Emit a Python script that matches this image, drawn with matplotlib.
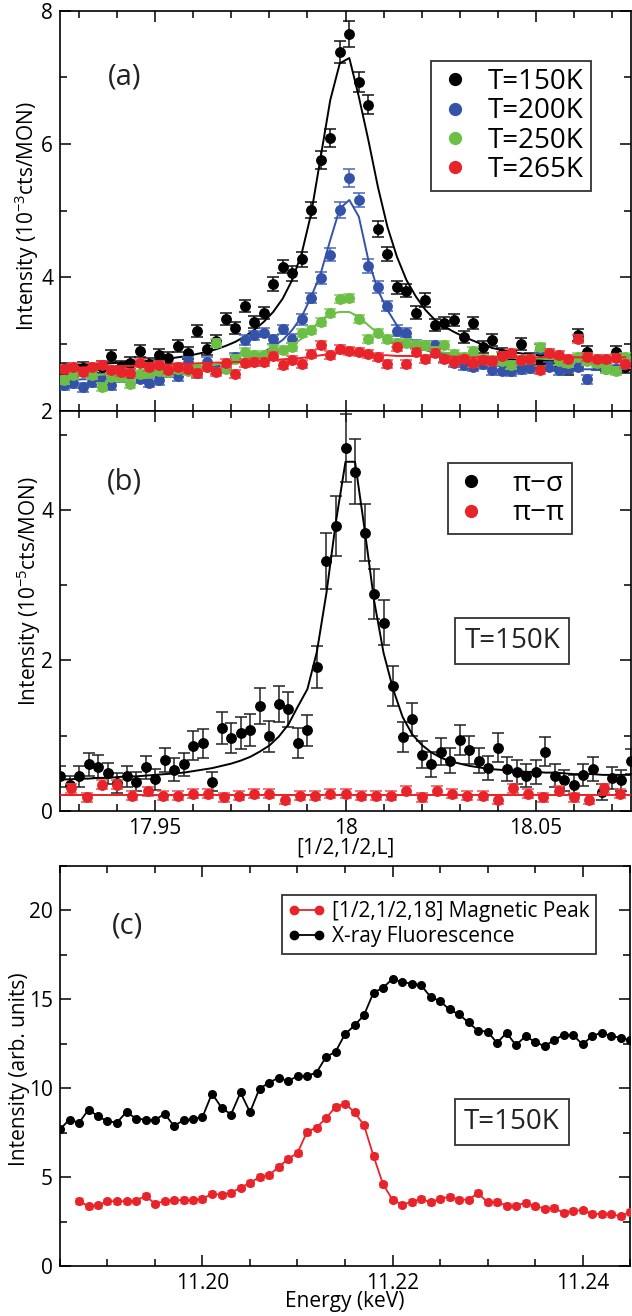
import matplotlib
matplotlib.use('Agg')
import matplotlib.pyplot as plt
from matplotlib.lines import Line2D
from matplotlib.ticker import MultipleLocator, FixedLocator

plt.rcParams['font.family'] = ['Open Sans', 'DejaVu Sans']
plt.rcParams['mathtext.fontset'] = 'custom'
plt.rcParams['mathtext.rm'] = 'Open Sans'
plt.rcParams['mathtext.it'] = 'Open Sans:italic'
plt.rcParams['mathtext.bf'] = 'Open Sans:bold'
plt.rcParams['axes.linewidth'] = 1.2

# ---------------- panel (a): L scans at four temperatures ----------------
L_a = [17.9260, 17.9285, 17.9310, 17.9335, 17.9360, 17.9385, 17.9410, 17.9435, 17.9460, 17.9485,
       17.9510, 17.9535, 17.9560, 17.9585, 17.9610, 17.9635, 17.9660, 17.9685, 17.9710, 17.9735,
       17.9760, 17.9785, 17.9810, 17.9835, 17.9860, 17.9885, 17.9910, 17.9935, 17.9960, 17.9985,
       18.0010, 18.0035, 18.0060, 18.0085, 18.0110, 18.0135, 18.0160, 18.0185, 18.0210, 18.0235,
       18.0260, 18.0285, 18.0310, 18.0335, 18.0360, 18.0385, 18.0410, 18.0435, 18.0460, 18.0485,
       18.0510, 18.0535, 18.0560, 18.0585, 18.0610, 18.0635, 18.0660, 18.0685, 18.0710, 18.0735]

t150 = [2.62, 2.60, 2.64, 2.61, 2.66, 2.82, 2.66, 2.71, 2.90, 2.70,
        2.84, 2.79, 2.97, 2.87, 3.20, 2.93, 3.05, 3.38, 3.24, 3.57,
        3.33, 3.47, 3.90, 4.16, 4.06, 4.27, 5.01, 5.76, 6.09, 7.38,
        7.65, 6.93, 6.59, 4.72, 4.35, 3.85, 3.80, 3.47, 3.66, 3.28,
        3.32, 3.36, 3.11, 3.31, 2.95, 3.06, 2.85, 2.80, 3.00, 2.78,
        2.75, 2.72, 2.70, 2.63, 3.13, 2.88, 2.70, 2.68, 2.88, 2.66]
t150_err = [0.09, 0.09, 0.09, 0.09, 0.09, 0.09, 0.09, 0.09, 0.09, 0.09,
            0.09, 0.09, 0.09, 0.09, 0.09, 0.09, 0.09, 0.09, 0.09, 0.09,
            0.09, 0.09, 0.10, 0.10, 0.11, 0.11, 0.12, 0.13, 0.14, 0.17,
            0.19, 0.15, 0.14, 0.12, 0.11, 0.10, 0.10, 0.10, 0.10, 0.09,
            0.09, 0.09, 0.09, 0.09, 0.09, 0.09, 0.09, 0.09, 0.09, 0.09,
            0.09, 0.09, 0.09, 0.09, 0.09, 0.09, 0.09, 0.09, 0.09, 0.09]
t150_fit = [2.68, 2.69, 2.69, 2.70, 2.70, 2.71, 2.72, 2.73, 2.74, 2.75,
            2.76, 2.78, 2.80, 2.82, 2.85, 2.88, 2.92, 2.97, 3.03, 3.11,
            3.21, 3.33, 3.48, 3.68, 3.96, 4.36, 4.96, 5.81, 6.66, 7.21,
            7.29, 6.71, 6.06, 5.36, 4.76, 4.31, 3.96, 3.71, 3.51, 3.36,
            3.26, 3.18, 3.11, 3.05, 2.99, 2.94, 2.91, 2.88, 2.86, 2.84,
            2.83, 2.82, 2.81, 2.80, 2.80, 2.79, 2.79, 2.78, 2.78, 2.78]

t200 = [2.38, 2.41, 2.35, 2.43, 2.48, 2.38, 2.50, 2.55, 2.48, 2.42,
        2.46, 2.58, 2.52, 2.73, 2.56, 2.73, 2.62, 2.64, 2.80, 3.06,
        3.13, 3.17, 3.07, 3.22, 3.08, 3.37, 3.69, 3.99, 4.34, 5.01,
        5.49, 5.16, 4.17, 3.86, 3.57, 3.20, 3.17, 2.99, 2.98, 2.98,
        2.80, 2.72, 2.68, 2.66, 2.70, 2.61, 2.60, 2.59, 2.62, 2.64,
        2.93, 2.66, 2.61, 2.63, 2.66, 2.47, 2.68, 2.63, 2.62, 2.71]
t200_err = [0.07, 0.07, 0.07, 0.07, 0.07, 0.07, 0.07, 0.07, 0.07, 0.07,
            0.07, 0.07, 0.07, 0.07, 0.07, 0.07, 0.07, 0.07, 0.07, 0.07,
            0.07, 0.07, 0.07, 0.07, 0.07, 0.08, 0.08, 0.09, 0.10, 0.12,
            0.13, 0.11, 0.10, 0.09, 0.08, 0.08, 0.07, 0.07, 0.07, 0.07,
            0.07, 0.07, 0.07, 0.07, 0.07, 0.07, 0.07, 0.07, 0.07, 0.07,
            0.07, 0.07, 0.07, 0.07, 0.07, 0.07, 0.07, 0.07, 0.07, 0.07]
t200_fit = [2.46, 2.46, 2.47, 2.47, 2.48, 2.48, 2.49, 2.49, 2.50, 2.51,
            2.52, 2.53, 2.54, 2.56, 2.58, 2.60, 2.63, 2.67, 2.72, 2.78,
            2.82, 2.88, 2.96, 3.06, 3.21, 3.41, 3.71, 4.06, 4.56, 5.03,
            5.16, 4.91, 4.26, 3.81, 3.51, 3.28, 3.13, 3.01, 2.91, 2.86,
            2.81, 2.77, 2.74, 2.72, 2.70, 2.68, 2.67, 2.66, 2.65, 2.64,
            2.64, 2.63, 2.63, 2.63, 2.62, 2.62, 2.62, 2.62, 2.62, 2.62]

t250 = [2.46, 2.53, 2.58, 2.53, 2.36, 2.50, 2.51, 2.40, 2.55, 2.56,
        2.60, 2.58, 2.62, 2.60, 2.63, 2.65, 3.02, 2.63, 2.78, 2.88,
        2.83, 2.83, 2.93, 2.91, 2.96, 3.17, 3.21, 3.33, 3.47, 3.67,
        3.69, 3.37, 3.07, 3.17, 3.07, 3.01, 3.01, 2.98, 2.98, 2.90,
        2.99, 2.85, 2.80, 2.89, 2.78, 2.76, 2.74, 2.68, 2.76, 2.78,
        2.95, 2.86, 2.74, 2.72, 2.81, 2.75, 2.72, 2.62, 2.59, 2.81]
t250_err = 0.06
t250_fit = [2.50, 2.51, 2.52, 2.53, 2.54, 2.55, 2.56, 2.57, 2.58, 2.59,
            2.60, 2.61, 2.62, 2.64, 2.65, 2.67, 2.69, 2.72, 2.75, 2.78,
            2.81, 2.84, 2.87, 2.91, 2.98, 3.08, 3.22, 3.36, 3.45, 3.48,
            3.48, 3.41, 3.28, 3.16, 3.06, 3.00, 2.96, 2.93, 2.91, 2.89,
            2.87, 2.85, 2.84, 2.83, 2.82, 2.81, 2.80, 2.79, 2.79, 2.78,
            2.78, 2.77, 2.77, 2.77, 2.76, 2.76, 2.76, 2.76, 2.76, 2.76]

t265 = [2.63, 2.66, 2.58, 2.66, 2.68, 2.61, 2.58, 2.57, 2.71, 2.66,
        2.68, 2.61, 2.65, 2.62, 2.57, 2.65, 2.58, 2.71, 2.55, 2.72,
        2.73, 2.73, 2.82, 2.68, 2.76, 2.70, 2.85, 2.98, 2.83, 2.93,
        2.89, 2.88, 2.85, 2.80, 2.70, 2.96, 2.70, 2.88, 2.78, 2.87,
        2.78, 2.73, 2.77, 2.71, 2.76, 2.75, 2.82, 2.87, 2.76, 2.78,
        2.61, 2.86, 2.83, 2.78, 3.07, 2.81, 2.78, 2.77, 2.79, 2.70]
t265_err = 0.06
t265_fit = [2.64, 2.64, 2.65, 2.65, 2.66, 2.66, 2.67, 2.67, 2.68, 2.68,
            2.69, 2.69, 2.70, 2.70, 2.71, 2.71, 2.72, 2.72, 2.73, 2.73,
            2.74, 2.75, 2.76, 2.77, 2.78, 2.79, 2.81, 2.83, 2.85, 2.86,
            2.86, 2.85, 2.84, 2.83, 2.83, 2.82, 2.82, 2.82, 2.81, 2.81,
            2.81, 2.81, 2.80, 2.80, 2.80, 2.80, 2.80, 2.80, 2.80, 2.80,
            2.80, 2.80, 2.80, 2.80, 2.80, 2.80, 2.80, 2.80, 2.80, 2.80]

temp_labels = ['T=150K', 'T=200K', 'T=250K', 'T=265K']
temp_colors = ['#000000', '#3452a8', '#6cbf45', '#e8232a']
temp_ecolors = ['#111111', '#4866bd', '#86d060', '#ef5050']

# ---------------- panel (b): polarisation analysis at 150 K ----------------
L_b = [17.9250, 17.9275, 17.9300, 17.9325, 17.9350, 17.9375, 17.9400, 17.9425, 17.9450, 17.9475,
       17.9500, 17.9525, 17.9550, 17.9575, 17.9600, 17.9625, 17.9650, 17.9675, 17.9700, 17.9725,
       17.9750, 17.9775, 17.9800, 17.9825, 17.9850, 17.9875, 17.9900, 17.9925, 17.9950, 17.9975,
       18.0000, 18.0025, 18.0050, 18.0075, 18.0100, 18.0125, 18.0150, 18.0175, 18.0200, 18.0225,
       18.0250, 18.0275, 18.0300, 18.0325, 18.0350, 18.0375, 18.0400, 18.0425, 18.0450, 18.0475,
       18.0500, 18.0525, 18.0550, 18.0575, 18.0600, 18.0625, 18.0650, 18.0675, 18.0700, 18.0725,
       18.0750]
pi_sigma = [0.46, 0.34, 0.46, 0.62, 0.59, 0.50, 0.37, 0.46, 0.39, 0.58,
            0.42, 0.68, 0.55, 0.62, 0.87, 0.90, 0.39, 1.10, 0.97, 1.04,
            1.08, 1.40, 0.99, 1.42, 1.35, 0.90, 1.07, 1.91, 3.32, 3.79,
            4.82, 4.51, 3.70, 2.88, 2.50, 1.66, 0.98, 1.22, 0.75, 0.62,
            0.79, 0.67, 0.94, 0.81, 0.67, 0.57, 0.84, 0.56, 0.52, 0.47,
            0.52, 0.79, 0.47, 0.41, 0.35, 0.48, 0.56, 0.25, 0.44, 0.41,
            0.66]
pi_sigma_err = [0.14, 0.13, 0.14, 0.15, 0.15, 0.14, 0.13, 0.14, 0.13, 0.15,
                0.14, 0.16, 0.15, 0.15, 0.19, 0.19, 0.13, 0.21, 0.20, 0.21,
                0.21, 0.24, 0.21, 0.24, 0.23, 0.20, 0.21, 0.28, 0.37, 0.40,
                0.45, 0.43, 0.38, 0.33, 0.30, 0.26, 0.20, 0.22, 0.18, 0.17,
                0.18, 0.17, 0.20, 0.18, 0.17, 0.16, 0.19, 0.16, 0.16, 0.15,
                0.16, 0.19, 0.15, 0.14, 0.13, 0.15, 0.16, 0.11, 0.15, 0.14,
                0.17]
pi_sigma_fit = [0.42, 0.42, 0.43, 0.43, 0.44, 0.44, 0.45, 0.46, 0.46, 0.47,
                0.48, 0.49, 0.50, 0.51, 0.53, 0.55, 0.57, 0.60, 0.63, 0.67,
                0.72, 0.79, 0.87, 0.99, 1.15, 1.39, 1.62, 2.12, 2.90, 3.85,
                4.64, 4.64, 3.75, 2.80, 2.10, 1.62, 1.25, 1.02, 0.88, 0.78,
                0.71, 0.66, 0.63, 0.60, 0.58, 0.56, 0.55, 0.54, 0.53, 0.52,
                0.52, 0.51, 0.51, 0.50, 0.49, 0.49, 0.49, 0.48, 0.48, 0.48,
                0.48]

L_pp = [17.928, 17.932, 17.936, 17.940, 17.944, 17.948, 17.952, 17.956, 17.960, 17.964,
        17.968, 17.972, 17.976, 17.980, 17.984, 17.988, 17.992, 17.996, 18.000, 18.004,
        18.008, 18.012, 18.016, 18.020, 18.024, 18.028, 18.032, 18.036, 18.040, 18.044,
        18.048, 18.052, 18.056, 18.060, 18.064, 18.068, 18.072]
pi_pi = [0.30, 0.18, 0.35, 0.35, 0.20, 0.26, 0.20, 0.20, 0.23, 0.23,
         0.18, 0.20, 0.23, 0.23, 0.15, 0.20, 0.20, 0.23, 0.23, 0.20,
         0.20, 0.20, 0.27, 0.18, 0.27, 0.23, 0.20, 0.20, 0.15, 0.30,
         0.23, 0.18, 0.27, 0.18, 0.15, 0.30, 0.23]
pi_pi_err = 0.06
pi_pi_fit_L = [17.925, 18.075]
pi_pi_fit = [0.21, 0.21]

# ---------------- panel (c): energy scans ----------------
E_fluo = [11.185, 11.186, 11.187, 11.188, 11.189, 11.190, 11.191, 11.192, 11.193, 11.194,
          11.195, 11.196, 11.197, 11.198, 11.199, 11.200, 11.201, 11.202, 11.203, 11.204,
          11.205, 11.206, 11.207, 11.208, 11.209, 11.210, 11.211, 11.212, 11.213, 11.214,
          11.215, 11.216, 11.217, 11.218, 11.219, 11.220, 11.221, 11.222, 11.223, 11.224,
          11.225, 11.226, 11.227, 11.228, 11.229, 11.230, 11.231, 11.232, 11.233, 11.234,
          11.235, 11.236, 11.237, 11.238, 11.239, 11.240, 11.241, 11.242, 11.243, 11.244,
          11.245]
fluo = [7.69, 8.24, 8.05, 8.80, 8.42, 8.14, 8.07, 8.67, 8.29, 8.24,
        8.20, 8.57, 7.88, 8.20, 8.26, 8.39, 9.70, 8.91, 8.52, 9.76,
        8.65, 9.98, 10.30, 10.60, 10.39, 10.69, 10.69, 10.88, 11.76, 12.05,
        13.04, 13.53, 14.11, 15.38, 15.65, 16.15, 15.97, 15.89, 15.80, 15.14,
        14.90, 14.43, 14.15, 13.70, 13.23, 13.19, 12.55, 13.11, 12.42, 12.93,
        12.61, 12.36, 12.70, 13.00, 13.00, 12.46, 12.93, 13.13, 12.93, 12.85,
        12.70]

E_mag = [11.187, 11.188, 11.189, 11.190, 11.191, 11.192, 11.193, 11.194,
         11.195, 11.196, 11.197, 11.198, 11.199, 11.200, 11.201, 11.202, 11.203, 11.204,
         11.205, 11.206, 11.207, 11.208, 11.209, 11.210, 11.211, 11.212, 11.213, 11.214,
         11.215, 11.216, 11.217, 11.218, 11.219, 11.220, 11.221, 11.222, 11.223, 11.224,
         11.225, 11.226, 11.227, 11.228, 11.229, 11.230, 11.231, 11.232, 11.233, 11.234,
         11.235, 11.236, 11.237, 11.238, 11.239, 11.240, 11.241, 11.242, 11.243, 11.244,
         11.245]
mag = [3.66, 3.36, 3.41, 3.64, 3.64, 3.64, 3.68, 3.94, 3.51, 3.64,
       3.70, 3.71, 3.70, 3.77, 4.07, 4.01, 4.11, 4.41, 4.67, 5.01,
       5.10, 5.57, 6.02, 6.36, 7.54, 7.79, 8.31, 8.95, 9.14, 8.65,
       7.92, 6.19, 4.60, 3.73, 3.45, 3.60, 3.77, 3.58, 3.79, 3.88,
       3.73, 3.73, 4.11, 3.58, 3.60, 3.40, 3.40, 3.55, 3.36, 3.23,
       3.26, 3.00, 3.11, 3.13, 2.95, 2.91, 2.91, 2.80, 3.04]
mag_err = 0.15


def style_axis(ax):
    ax.tick_params(which='both', direction='in', top=True, right=True,
                   labelsize=15, width=1.1, pad=5)
    ax.tick_params(which='major', length=8)
    ax.tick_params(which='minor', length=5)


def boxed(ax, x, y, s):
    ax.text(x, y, s, transform=ax.transAxes, fontsize=20, ha='center', va='center',
            color='#222222',
            bbox=dict(boxstyle='square,pad=0.33', fc='white', ec='#333333', lw=1.3))


fig = plt.figure(figsize=(6.32, 13.16), dpi=100)
W, H = 632.0, 1316.0
ax_a = fig.add_axes([60 / W, 1 - 410.6 / H, 571 / W, 399.9 / H])
ax_b = fig.add_axes([60 / W, 1 - 811 / H, 571 / W, 400.4 / H])
ax_c = fig.add_axes([60 / W, 1 - 1266 / H, 570 / W, 400 / H])

# ---- (a)
series_a = [(t150, t150_err, t150_fit), (t200, t200_err, t200_fit),
            (t250, t250_err, t250_fit), (t265, t265_err, t265_fit)]
for n, (y, e, f) in enumerate(series_a):
    ax_a.errorbar(L_a, y, yerr=e, fmt='o', ms=6.8, color=temp_colors[n],
                  ecolor=temp_ecolors[n], elinewidth=1.1, capsize=4.2, capthick=1.1,
                  zorder=2 + n)
    ax_a.plot(L_a, f, color=temp_colors[n], lw=1.4, zorder=2 + n)

ax_a.set_xlim(17.925, 18.075)
ax_a.set_ylim(2, 8)
ax_a.xaxis.set_major_locator(FixedLocator([17.95, 18.0, 18.05]))
ax_a.xaxis.set_minor_locator(MultipleLocator(0.01))
ax_a.yaxis.set_major_locator(FixedLocator([2, 4, 6, 8]))
ax_a.yaxis.set_minor_locator(MultipleLocator(1))
style_axis(ax_a)
ax_a.tick_params(labelbottom=False)
ax_a.text(0.114, 0.834, '(a)', transform=ax_a.transAxes, fontsize=21,
          ha='center', va='center', color='#222222')
handles_a = [Line2D([], [], ls='none', marker='o', ms=8.5, color=c) for c in temp_colors]
leg_a = ax_a.legend(handles_a, temp_labels, loc='upper left', bbox_to_anchor=(0.65, 0.874),
                    fontsize=20, frameon=True, fancybox=False, edgecolor='black',
                    borderpad=0.25, labelspacing=0.05, handletextpad=0.6,
                    handlelength=1.2, borderaxespad=0)
leg_a.get_frame().set_linewidth(1.3)

# ---- (b)
ax_b.errorbar(L_b, pi_sigma, yerr=pi_sigma_err, fmt='o', ms=6.8, color='black',
              ecolor='#222222', elinewidth=1.1, capsize=4.0, capthick=1.1, zorder=2)
ax_b.plot(L_b, pi_sigma_fit, color='black', lw=1.4, zorder=3)
ax_b.errorbar(L_pp, pi_pi, yerr=pi_pi_err, fmt='o', ms=6.8, color='#e8232a',
              ecolor='#ef5050', elinewidth=1.1, capsize=4.0, capthick=1.1, zorder=4)
ax_b.plot(pi_pi_fit_L, pi_pi_fit, color='#e8232a', lw=1.4, zorder=4)

ax_b.set_xlim(17.925, 18.075)
ax_b.set_ylim(0, 5.32)
ax_b.xaxis.set_major_locator(FixedLocator([17.95, 18.0, 18.05]))
ax_b.xaxis.set_minor_locator(MultipleLocator(0.01))
ax_b.set_xticklabels(['17.95', '18', '18.05'])
ax_b.yaxis.set_major_locator(FixedLocator([0, 2, 4]))
ax_b.yaxis.set_minor_locator(MultipleLocator(1))
style_axis(ax_b)
ax_b.text(0.112, 0.822, '(b)', transform=ax_b.transAxes, fontsize=21,
          ha='center', va='center', color='#222222')
handles_b = [Line2D([], [], ls='none', marker='o', ms=8.5, color=c)
             for c in ['black', '#e8232a']]
leg_b = ax_b.legend(handles_b, ['π\u2212σ', 'π\u2212π'], loc='upper left',
                    bbox_to_anchor=(0.679, 0.869), fontsize=20, frameon=True,
                    fancybox=False, edgecolor='black', borderpad=0.25,
                    labelspacing=0.05, handletextpad=0.9, handlelength=1.2,
                    borderaxespad=0)
leg_b.get_frame().set_linewidth(1.3)
boxed(ax_b, 0.792, 0.425, 'T=150K')

# ---- (c)
ax_c.plot(E_fluo, fluo, '-o', color='black', ms=5.5, lw=1.3, zorder=2)
ax_c.errorbar(E_mag, mag, yerr=mag_err, fmt='-o', ms=5.5, color='#e8232a',
              ecolor='#ef5050', lw=1.3, elinewidth=1.0, capsize=2.8, capthick=1.0,
              zorder=3)
ax_c.set_xlim(11.185, 11.245)
ax_c.set_ylim(0, 22.5)
ax_c.xaxis.set_major_locator(FixedLocator([11.20, 11.22, 11.24]))
ax_c.xaxis.set_minor_locator(MultipleLocator(0.005))
ax_c.set_xticklabels(['11.20', '11.22', '11.24'])
ax_c.yaxis.set_major_locator(FixedLocator([0, 5, 10, 15, 20]))
ax_c.yaxis.set_minor_locator(MultipleLocator(2.5))
style_axis(ax_c)
ax_c.text(0.118, 0.85, '(c)', transform=ax_c.transAxes, fontsize=21,
          ha='center', va='center', color='#222222')
handles_c = [Line2D([], [], color='#e8232a', marker='o', ms=6, lw=1.3),
             Line2D([], [], color='black', marker='o', ms=6, lw=1.3)]
leg_c = ax_c.legend(handles_c, ['[1/2,1/2,18] Magnetic Peak', 'X-ray Fluorescence'],
                    loc='upper left', bbox_to_anchor=(0.389, 0.9275), fontsize=15,
                    numpoints=2, frameon=True, fancybox=False, edgecolor='black',
                    borderpad=0.3, labelspacing=0.2, handletextpad=0.3,
                    handlelength=1.8, borderaxespad=0)
leg_c.get_frame().set_linewidth(1.3)
boxed(ax_c, 0.793, 0.36, 'T=150K')

# ---- axis labels
fig.text(27 / W, 1 - 216 / H, 'Intensity (10$^{-3}$cts/MON)', rotation=90,
         ha='center', va='center', fontsize=15)
fig.text(29 / W, 1 - 591 / H, 'Intensity (10$^{-5}$cts/MON)', rotation=90,
         ha='center', va='center', fontsize=15)
fig.text(20 / W, 1 - 1069 / H, 'Intensity (arb. units)', rotation=90,
         ha='center', va='center', fontsize=15)
fig.text(345 / W, 1 - 848 / H, '[1/2,1/2,L]', ha='center', va='center', fontsize=15)
fig.text(345 / W, 1 - 1302 / H, 'Energy (keV)', ha='center', va='center', fontsize=15)

fig.savefig('out.png', dpi=100)
